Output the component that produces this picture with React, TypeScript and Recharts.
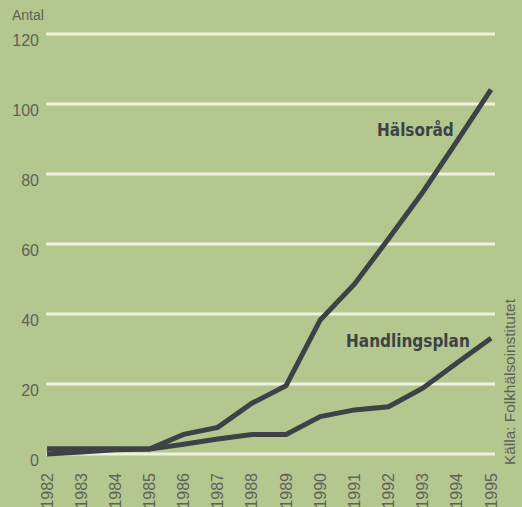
import React from 'react';
import { LineChart, Line, XAxis, YAxis, CartesianGrid } from 'recharts';

const years = ['1982', '1983', '1984', '1985', '1986', '1987', '1988', '1989', '1990', '1991', '1992', '1993', '1994', '1995'];
const halsorad = [1.5, 1.5, 1.5, 1.4, 5.6, 7.6, 14.5, 19.5, 38.3, 48.5, 61.5, 74.8, 89.3, 104.1];
const handlingsplan = [0, 0.6, 1.2, 1.4, 2.8, 4.3, 5.6, 5.6, 10.7, 12.6, 13.5, 18.8, 26, 33.1];
const yTicks = [0, 20, 40, 60, 80, 100, 120];

const data = years.map((year, i) => ({
  year,
  halsorad: halsorad[i],
  handlingsplan: handlingsplan[i],
}));

const BG = '#b4c78f';
const INK = '#3c4246';
const TEXT = '#5e625a';
const FONT = '"Liberation Sans", Arial, sans-serif';
const BOLD = '"DejaVu Sans", sans-serif';

const YTick = (props: any) => {
  const { x, y, payload } = props;
  return (
    <text x={x} y={y + 6} textAnchor="end" dominantBaseline="central" fill={TEXT} fontSize={16} fontFamily={FONT}>
      {payload.value}
    </text>
  );
};

const XTick = (props: any) => {
  const { x, y, payload } = props;
  return (
    <text
      x={x}
      y={y}
      transform={`rotate(-90, ${x}, ${y})`}
      textAnchor="end"
      dominantBaseline="central"
      fill={TEXT}
      fontSize={16}
      fontFamily={FONT}
    >
      {payload.value}
    </text>
  );
};

const labelStyle = (left: number, top: number): React.CSSProperties => ({
  position: 'absolute',
  left,
  top,
  fontFamily: BOLD,
  fontWeight: 'bold',
  fontSize: 18,
  color: INK,
  whiteSpace: 'nowrap',
  transform: 'scaleX(0.85)',
  transformOrigin: '0 0',
});

export default function App() {
  return (
    <div style={{ position: 'absolute', left: 0, top: 0, width: 522, height: 507, background: BG, overflow: 'hidden' }}>
      <LineChart width={522} height={507} data={data} margin={{ top: 34, right: 27, bottom: 0, left: 0 }}>
        <CartesianGrid vertical={false} stroke="#eef1de" strokeWidth={3} />
        <XAxis
          dataKey="year"
          axisLine={false}
          tickLine={false}
          tickSize={0}
          tickMargin={19}
          height={53}
          interval={0}
          padding={{ left: 1, right: 4 }}
          tick={<XTick />}
        />
        <YAxis
          domain={[0, 120]}
          ticks={yTicks}
          axisLine={false}
          tickLine={false}
          tickSize={0}
          tickMargin={7}
          width={46}
          tick={<YTick />}
        />
        <Line dataKey="halsorad" stroke={INK} strokeWidth={5} dot={false} isAnimationActive={false} strokeLinejoin="miter" />
        <Line dataKey="handlingsplan" stroke={INK} strokeWidth={5} dot={false} isAnimationActive={false} strokeLinejoin="miter" />
      </LineChart>
      <div style={{ position: 'absolute', left: 12, top: 7, fontFamily: FONT, fontSize: 14, color: TEXT }}>Antal</div>
      <div style={labelStyle(377, 119)}>Hälsoråd</div>
      <div style={labelStyle(346, 330)}>Handlingsplan</div>
      <div
        style={{
          position: 'absolute',
          left: 509,
          top: 465,
          transform: 'rotate(-90deg)',
          transformOrigin: '0 0',
          whiteSpace: 'nowrap',
          fontFamily: FONT,
          fontSize: 15.4,
          color: TEXT,
          lineHeight: '15px',
        }}
      >
        <span style={{ position: 'relative', top: -7 }}>Källa: Folkhälsoinstitutet</span>
      </div>
    </div>
  );
}
